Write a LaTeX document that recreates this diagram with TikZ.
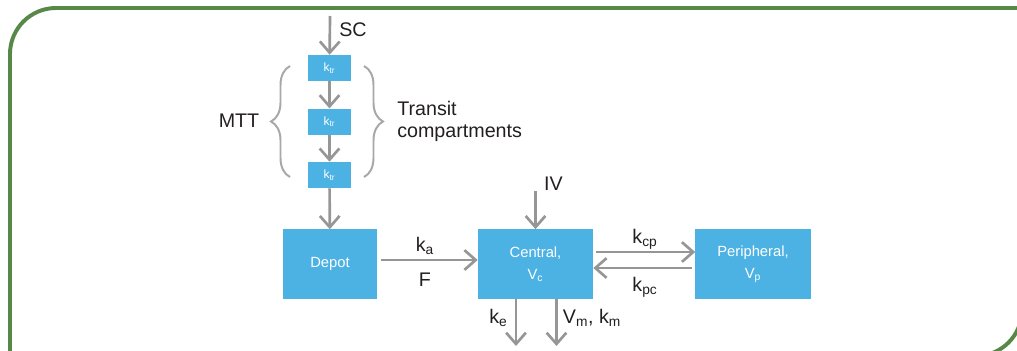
\documentclass[tikz,border=0pt]{standalone}
\usepackage{fontspec}
\setmainfont{Liberation Sans}
\usetikzlibrary{arrows.meta,decorations.pathreplacing}

\definecolor{framegreen}{RGB}{88,136,72}
\definecolor{boxblue}{RGB}{76,178,228}
\definecolor{arrowgray}{RGB}{150,150,150}
\definecolor{bracegray}{RGB}{168,168,168}
\definecolor{labeltext}{RGB}{35,31,32}

\begin{document}
\begin{tikzpicture}[
    x=0.025cm, y=-0.025cm,
    comp/.style={rectangle, fill=boxblue, text=white, align=center, minimum width=2.875cm, minimum height=1.725cm, inner sep=0pt, font=\fontsize{10.5}{15.5}\selectfont},
    transit/.style={rectangle, fill=boxblue, text=white, minimum width=1.075cm, minimum height=0.65cm, inner sep=0pt, font=\fontsize{8.5}{10}\selectfont},
    flow/.style={draw=arrowgray, line width=1.9pt, -{Straight Barb[length=8pt,width=14pt]}},
    rate/.style={text=labeltext, font=\fontsize{14}{15.6}\selectfont, inner sep=0pt},
    curly/.style={draw=bracegray, line width=1.4pt, decorate, decoration={brace, amplitude=13.5pt}},
    greenline/.style={draw=framegreen, line width=2.8pt}
]

\useasboundingbox (0,0) rectangle (1017,350);

% Zielona ramka (zaokraglone rogi: lewy gorny i prawy dolny)
\draw[greenline] (1040,8) -- (56,8) arc[start angle=90, end angle=180, radius=1.15cm] -- (10,370);
\draw[greenline] (880,356) -- (976,356) arc[start angle=-90, end angle=0, radius=1.15cm] -- (1022,200);

% Przedzialy tranzytowe
\node[transit] (tr1) at (329.5,68) {k\textsubscript{tr}};
\node[transit] (tr2) at (329.5,121.7) {k\textsubscript{tr}};
\node[transit] (tr3) at (329.5,175) {k\textsubscript{tr}};

% Przedzialy glowne
\node[comp, minimum width=2.325cm] (depot) at (330,264) {Depot};
\node[comp] (central) at (535.5,264) {Central,\\V\textsubscript{c}};
\node[comp] (periph) at (753,264) {Peripheral,\\V\textsubscript{p}};

% Wolne konce strzalek
\coordinate (sc) at (330,16);
\coordinate (iv) at (535.5,191);
\coordinate (ke) at (516,346);
\coordinate (vm) at (556.5,346);

% Strzalki podania i tranzytu
\draw[flow] (sc) -- (tr1);
\draw[flow] (tr1) -- (tr2);
\draw[flow] (tr2) -- (tr3);
\draw[flow] (tr3) -- (depot);
\draw[flow] (iv) -- (central);

% Wchlanianie i dystrybucja
\draw[flow, shorten <=3pt] ([yshift=0.1cm]depot.east) -- ([yshift=0.1cm]central.west);
\draw[flow, shorten <=2pt] ([yshift=0.3cm]central.east) -- ([yshift=0.3cm]periph.west);
\draw[flow, shorten <=2pt] ([yshift=-0.1cm]periph.west) -- ([yshift=-0.1cm]central.east);

% Eliminacja
\draw[flow] (central.south -| ke) -- (ke);
\draw[flow] (central.south -| vm) -- (vm);

% Klamry
\draw[curly] (290,177) -- (290,66);
\draw[curly] (364,66) -- (364,177);

% Etykiety
\node[rate] (lsc) at (353,29.5) {SC};
\node[rate] (liv) at (553.5,183.5) {IV};
\node[rate] (lmtt) at (239,121) {MTT};
\node[rate, anchor=west, align=left] (ltransit) at (397,121) {Transit\\compartments};
\node[rate] (lka) at (425,246) {k\textsubscript{a}};
\node[rate] (lf) at (425,279.5) {F};
\node[rate] (lkcp) at (645,239) {k\textsubscript{cp}};
\node[rate] (lkpc) at (645,287) {k\textsubscript{pc}};
\node[rate] (lke) at (498.5,318) {k\textsubscript{e}};
\node[rate] (lvm) at (592,318) {V\textsubscript{m}, k\textsubscript{m}};

\end{tikzpicture}
\end{document}
